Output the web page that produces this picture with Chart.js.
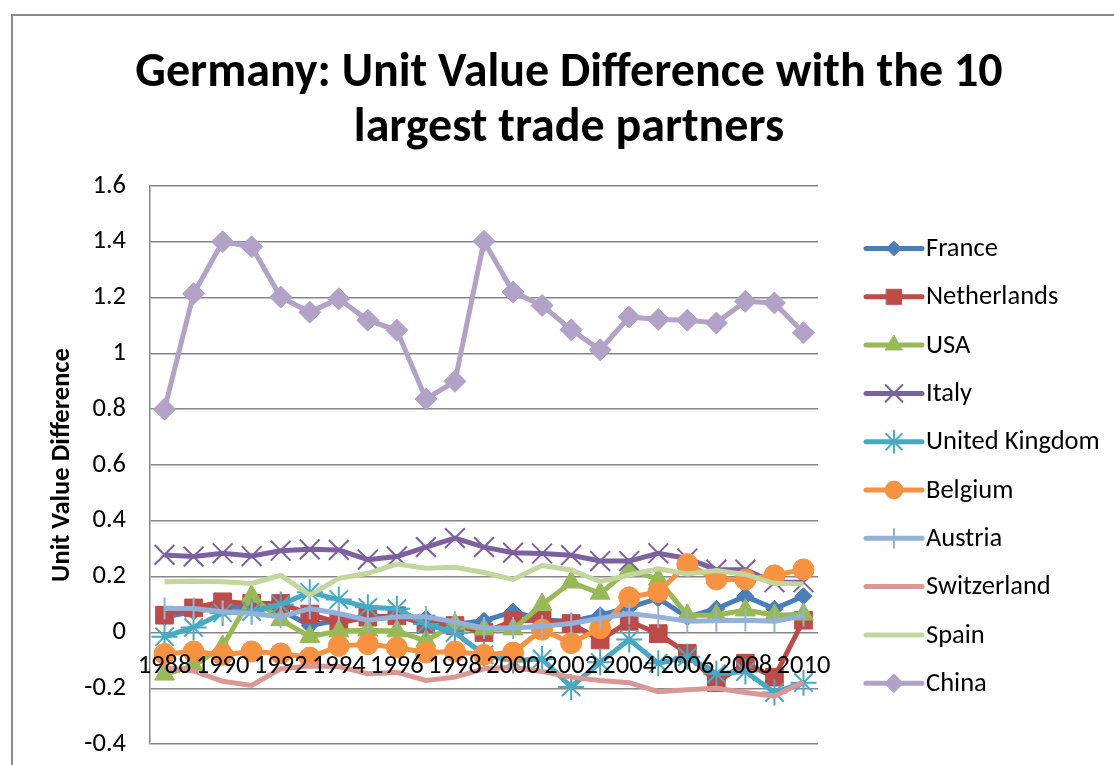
<!DOCTYPE html>
<html>
<head>
<meta charset="utf-8">
<script src="https://cdn.jsdelivr.net/npm/chart.js@4/dist/chart.umd.min.js"></script>
<style>
html,body{margin:0;padding:0;background:#fff;overflow:hidden;width:1114px;height:765px;}
#frame{position:absolute;left:11px;top:14px;width:1200px;height:800px;border-left:2px solid #8a8a8a;border-top:2px solid #8a8a8a;}
#c{position:absolute;left:0;top:0;}
</style>
</head>
<body>
<div id="frame"><canvas id="c" width="1112" height="768"></canvas></div>
<script>
const years = ['1988','1989','1990','1991','1992','1993','1994','1995','1996','1997','1998','1999','2000','2001','2002','2003','2004','2005','2006','2007','2008','2009','2010'];
const seriesNames = ['France','Netherlands','USA','Italy','United Kingdom','Belgium','Austria','Switzerland','Spain','China'];
const france      = [0.055,0.075,0.09,0.09,0.08,0.025,0.045,0.06,0.055,0.05,0.03,0.042,0.075,0.045,0.04,0.062,0.09,0.122,0.055,0.085,0.13,0.085,0.13];
const netherlands = [0.062,0.088,0.11,0.104,0.104,0.066,0.034,0.055,0.06,0.03,0.025,0.0,0.042,0.044,0.032,-0.027,0.04,-0.004,-0.075,-0.18,-0.11,-0.16,0.044];
const usa         = [-0.15,-0.12,-0.05,0.13,0.045,-0.015,0.005,0.008,0.005,-0.03,0.03,0.012,0.012,0.1,0.18,0.14,0.225,0.19,0.062,0.062,0.08,0.062,0.065];
const italy       = [0.278,0.272,0.284,0.274,0.293,0.298,0.296,0.261,0.272,0.306,0.338,0.306,0.286,0.283,0.277,0.256,0.256,0.284,0.265,0.225,0.225,0.18,0.18];
const uk          = [-0.015,0.018,0.07,0.075,0.1,0.144,0.118,0.09,0.085,0.03,0.0,-0.08,-0.1,-0.095,-0.195,-0.107,-0.025,-0.11,-0.087,-0.148,-0.14,-0.215,-0.18];
const belgium     = [-0.077,-0.068,-0.08,-0.068,-0.075,-0.09,-0.048,-0.042,-0.054,-0.072,-0.068,-0.08,-0.072,0.01,-0.038,0.015,0.126,0.145,0.245,0.19,0.19,0.205,0.226];
const austria     = [0.086,0.086,0.074,0.068,0.056,0.086,0.068,0.044,0.056,0.056,0.038,0.016,0.016,0.022,0.032,0.05,0.068,0.056,0.04,0.042,0.044,0.04,0.06];
const switzerland = [-0.125,-0.138,-0.175,-0.19,-0.13,-0.12,-0.122,-0.148,-0.143,-0.172,-0.16,-0.13,-0.125,-0.14,-0.16,-0.172,-0.18,-0.212,-0.205,-0.2,-0.215,-0.228,-0.177];
const spain       = [0.182,0.184,0.182,0.176,0.205,0.134,0.194,0.212,0.245,0.23,0.234,0.215,0.19,0.24,0.224,0.182,0.206,0.228,0.21,0.222,0.208,0.176,0.174];
const china       = [0.80,1.214,1.40,1.382,1.202,1.148,1.196,1.119,1.083,0.837,0.90,1.402,1.22,1.172,1.085,1.013,1.131,1.122,1.119,1.109,1.187,1.181,1.074];
const yMin = -0.4, yMax = 1.6, yStep = 0.2;
const titleLines = ['Germany: Unit Value Difference with the 10','largest trade partners'];
const yAxisTitle = 'Unit Value Difference';

const FONT = 'Carlito, Calibri, Lato, "Liberation Sans", sans-serif';
const values = [france, netherlands, usa, italy, uk, belgium, austria, switzerland, spain, china];
const colors = ['#4A7EBB','#BE4B48','#98B954','#7D60A0','#46AAC5','#F69240','#94B2D7','#D99795','#C3D69B','#B2A2C7'];
const styles = [
  {pointStyle:'rectRot', radius:8.5, bw:1},
  {pointStyle:'rect', radius:12.5, bw:1},
  {pointStyle:'triangle', radius:11.5, bw:1},
  {pointStyle:'crossRot', radius:14, bw:2},
  {pointStyle:'star', radius:13, bw:2},
  {pointStyle:'circle', radius:10.5, bw:1},
  {pointStyle:'line', radius:11, bw:2, rot:90},
  {pointStyle:false, radius:0, bw:0},
  {pointStyle:false, radius:0, bw:0},
  {pointStyle:'rectRot', radius:11, bw:1}
];

const datasets = seriesNames.map((name, i) => ({
  label: name,
  data: values[i],
  borderColor: colors[i],
  backgroundColor: colors[i],
  borderWidth: 5,
  tension: 0,
  pointStyle: styles[i].pointStyle,
  pointRadius: styles[i].radius,
  pointHoverRadius: styles[i].radius,
  pointBorderWidth: styles[i].bw,
  pointRotation: styles[i].rot || 0,
  pointBackgroundColor: colors[i],
  pointBorderColor: colors[i],
  yAxisID: 'y',
  order: seriesNames.length - i
}));

const legendPlugin = {
  id: 'sideLegend',
  afterDraw(chart) {
    const ctx = chart.ctx;
    ctx.save();
    const x0 = 853, x1 = 909, tx = 913, y0 = 232.5, dy = 48.3;
    chart.data.datasets.forEach((ds, i) => {
      const y = y0 + i * dy;
      ctx.strokeStyle = ds.borderColor;
      ctx.lineWidth = 5;
      ctx.lineCap = 'round';
      ctx.beginPath(); ctx.moveTo(x0, y); ctx.lineTo(x1, y); ctx.stroke();
      if (ds.pointStyle) {
        ctx.fillStyle = ds.pointBackgroundColor;
        ctx.strokeStyle = ds.pointBorderColor;
        ctx.lineWidth = ds.pointBorderWidth;
        Chart.helpers.drawPoint(ctx, {pointStyle: ds.pointStyle, rotation: ds.pointRotation, radius: ds.pointRadius * 0.85, borderWidth: ds.pointBorderWidth}, (x0 + x1) / 2, y);
      }
      ctx.fillStyle = '#000';
      ctx.font = '26.5px ' + FONT;
      ctx.textAlign = 'left';
      ctx.textBaseline = 'middle';
      ctx.fillText(ds.label, tx, y + 1);
    });
    ctx.restore();
  }
};

new Chart(document.getElementById('c'), {
  type: 'line',
  data: { labels: years, datasets },
  plugins: [legendPlugin],
  options: {
    responsive: false,
    animation: false,
    events: [],
    layout: { padding: { left: 0, right: 0, top: 0, bottom: 6 } },
    plugins: {
      legend: { display: false },
      tooltip: { enabled: false },
      title: {
        display: true,
        text: titleLines,
        color: '#000',
        font: { family: FONT, size: 48, weight: 'bold', lineHeight: 1.146 },
        padding: { top: 30.5, bottom: 29.5 }
      }
    },
    scales: {
      x: {
        type: 'category',
        position: { y: 0 },
        offset: true,
        afterFit: (s) => { s.height = 0; },
        grid: { display: true, drawOnChartArea: false, drawTicks: true, tickLength: 18, color: 'rgba(0,0,0,0)', tickColor: 'rgba(0,0,0,0)' },
        border: { display: false },
        ticks: {
          z: 1,
          autoSkip: false, maxRotation: 0, minRotation: 0, padding: 0,
          color: '#000', font: { family: FONT, size: 26.5 },
          callback: function(v, i) { return i % 2 === 0 ? this.getLabelForValue(v) : ''; }
        }
      },
      y: {
        min: yMin, max: yMax,
        afterFit: (s) => { s.width = 137; },
        grid: { color: '#868686', lineWidth: 1.5, drawTicks: false },
        border: { display: true, color: '#868686', width: 1.5 },
        ticks: {
          stepSize: yStep, padding: 24, color: '#000',
          font: { family: FONT, size: 26.5 },
          callback: (v) => String(Math.round(v * 10) / 10)
        },
        title: {
          display: true, text: yAxisTitle, color: '#000',
          font: { family: FONT, size: 26.5, weight: 'bold', lineHeight: 1.2 },
          padding: { top: 33, bottom: 0 }
        }
      },
      legendSpace: {
        type: 'linear',
        position: 'right',
        min: 0, max: 1,
        afterFit: (s) => { s.width = 307; },
        grid: { display: false },
        border: { display: false },
        ticks: { display: false }
      }
    }
  }
});
</script>
</body>
</html>
